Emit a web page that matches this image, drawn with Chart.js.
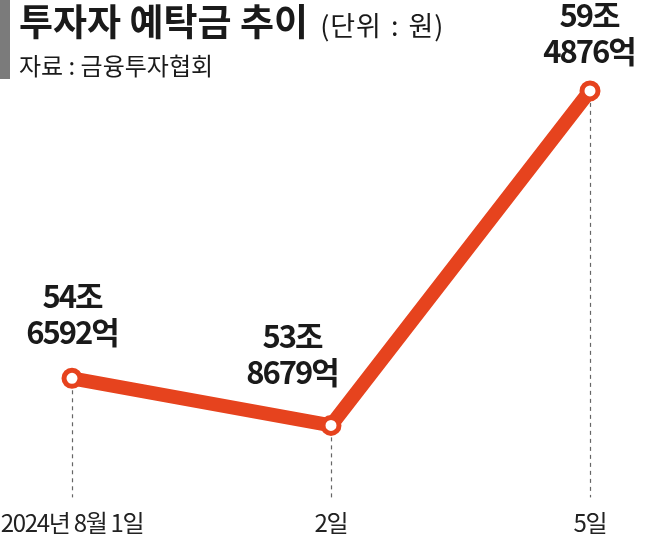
<!DOCTYPE html>
<html><head><meta charset="utf-8">
<script src="https://cdn.jsdelivr.net/npm/chart.js@4/dist/chart.umd.min.js"></script>
<style>
html,body{margin:0;padding:0;background:#fff;}
#wrap{position:relative;width:647px;height:540px;overflow:hidden;}
#c{position:absolute;left:0;top:0;}
.bar{position:absolute;left:0;top:0;width:10px;height:79px;background:#7b7b7b;}
.title{position:absolute;left:19px;top:-7px;white-space:nowrap;color:#1a1a1a;font-family:"Noto Sans CJK KR";}
.title b{font-size:37px;font-weight:700;letter-spacing:0px;}
.title span{font-size:27px;font-weight:400;margin-left:12px;letter-spacing:1px;word-spacing:2px;}
.sub{position:absolute;left:19px;top:47px;white-space:nowrap;color:#1a1a1a;font-family:"Noto Sans CJK KR";font-size:24px;letter-spacing:0px;}
</style></head>
<body>
<div id="wrap">
<canvas id="c" width="647" height="540"></canvas>
<div class="bar"></div>
<div class="title"><b>투자자 예탁금 추이</b><span>(단위 : 원)</span></div>
<div class="sub">자료 : 금융투자협회</div>
</div>
<script>
const categories = ['2024년 8월 1일', '2일', '5일'];
const depositsEok = [546592, 538679, 594876]; // 억 원
const valuesJo = depositsEok.map(v => v / 10000);
const labelJo = depositsEok.map(v => Math.floor(v / 10000) + '조');
const labelEok = depositsEok.map(v => (v % 10000) + '억');

const labelDx = [0, -39, -1];
const labelDy = [-34, -41, -28];

const overlay = {
  id: 'overlay',
  beforeDraw(chart) {
    if ('letterSpacing' in chart.ctx) chart.ctx.letterSpacing = '-1.3px';
  },
  beforeDatasetsDraw(chart) {
    const {ctx, chartArea} = chart;
    const pts = chart.getDatasetMeta(0).data;
    ctx.save();
    ctx.strokeStyle = '#666';
    ctx.lineWidth = 1.2;
    ctx.setLineDash([4, 4]);
    pts.forEach(p => {
      const x = Math.round(p.x) + 0.5;
      ctx.beginPath();
      ctx.moveTo(x, p.y + 12);
      ctx.lineTo(x, chartArea.bottom);
      ctx.stroke();
    });
    ctx.restore();
  },
  afterDatasetsDraw(chart) {
    const {ctx} = chart;
    const pts = chart.getDatasetMeta(0).data;
    ctx.save();
    ctx.fillStyle = '#1a1a1a';
    ctx.textAlign = 'center';
    ctx.textBaseline = 'alphabetic';
    ctx.font = '700 31px "Noto Sans CJK KR"';
    if ('letterSpacing' in ctx) ctx.letterSpacing = '-2px';
    pts.forEach((p, i) => {
      const x = p.x + labelDx[i];
      const y2 = p.y + labelDy[i];
      ctx.fillText(labelEok[i], x, y2);
      ctx.fillText(labelJo[i], x, y2 - 36);
    });
    ctx.restore();
  },
  afterDraw(chart) {
    if ('letterSpacing' in chart.ctx) chart.ctx.letterSpacing = '0px';
  }
};

new Chart(document.getElementById('c'), {
  type: 'line',
  data: {
    labels: categories,
    datasets: [{
      data: valuesJo,
      borderColor: '#e6431e',
      borderWidth: 14,
      borderJoinStyle: 'round',
      borderCapStyle: 'round',
      tension: 0,
      pointRadius: 8,
      pointBorderWidth: 5,
      pointBackgroundColor: '#ffffff',
      pointBorderColor: '#e6431e',
      pointHoverRadius: 8
    }]
  },
  options: {
    responsive: false,
    animation: false,
    layout: {autoPadding: false, padding: {left: 72, right: 57, top: 0, bottom: -9}},
    plugins: {legend: {display: false}, tooltip: {enabled: false}, title: {display: false}},
    scales: {
      x: {
        type: 'category',
        offset: false,
        grid: {display: false, drawTicks: false},
        border: {display: false},
        afterFit(scale) { scale.paddingLeft = 0; scale.paddingRight = 0; },
        ticks: {
          padding: 12,
          color: '#222',
          maxRotation: 0,
          autoSkip: false,
          font: {family: '"Noto Sans CJK KR"', size: 24, lineHeight: 1.15}
        }
      },
      y: {display: false, min: 52.658, max: 61.0144}
    }
  },
  plugins: [overlay]
});
</script>
</body></html>
